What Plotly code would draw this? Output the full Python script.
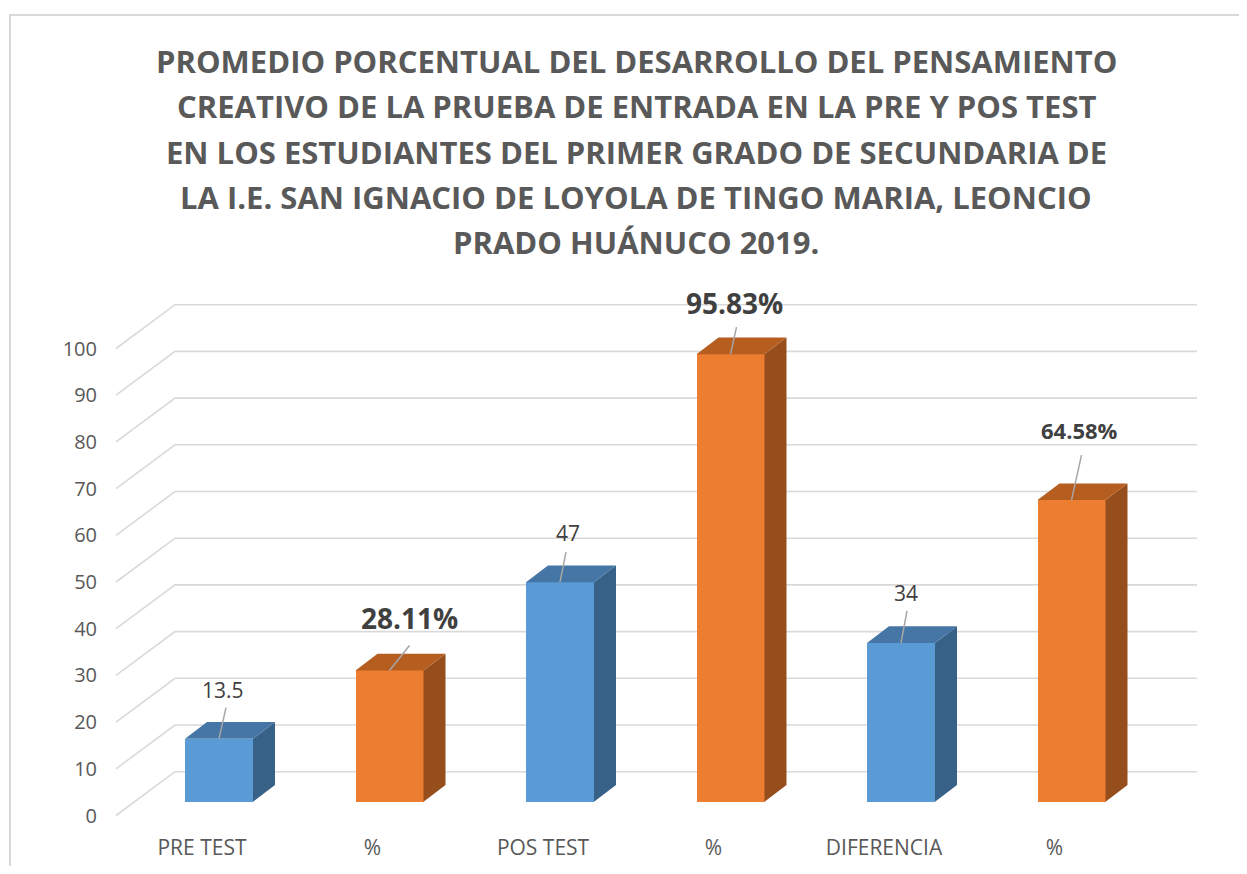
import plotly.graph_objects as go

# ---------------- data ----------------
categories = ["PRE TEST", "%", "POS TEST", "%", "DIFERENCIA", "%"]
values = [13.5, 28.11, 47, 95.83, 34, 64.58]
is_percent = [False, True, False, True, False, True]
y_ticks = [0, 10, 20, 30, 40, 50, 60, 70, 80, 90, 100]
title_lines = [
    "PROMEDIO PORCENTUAL DEL DESARROLLO DEL PENSAMIENTO",
    "CREATIVO DE LA PRUEBA DE ENTRADA EN LA PRE Y POS TEST",
    "EN LOS ESTUDIANTES DEL PRIMER GRADO DE SECUNDARIA DE",
    "LA I.E. SAN IGNACIO DE LOYOLA DE TINGO MARIA, LEONCIO",
    "PRADO HUÁNUCO 2019.",
]

# ---------------- geometry / style (screen pixels) ----------------
PAGE_OFF = 8                               # default body margin of the html page
W, H = 1247 - 2 * PAGE_OFF, 874 - 2 * PAGE_OFF
L, R, T, B = 100, 1217, 290, 830          # plot area in screen pixels
X0PX, XSTEP = 219.0, 170.5                # pixel of category 0, pixels per category
Y0PX, YSCALE = 801.7, 4.67                # pixel of value 0 (bar front plane), px per unit

xr = [(L - X0PX) / XSTEP, (R - X0PX) / XSTEP]
yr = [(Y0PX - B) / YSCALE, (Y0PX - T) / YSCALE]

BAR_W = 68 / XSTEP
DX = 22 / XSTEP
DY = 16.7 / YSCALE
FRONT_OFF = (Y0PX - 815.5) / YSCALE
BACK_OFF = (Y0PX - 771.7) / YSCALE
X_FRONT = (116 - X0PX) / XSTEP
X_BACK = (175 - X0PX) / XSTEP
X_END = (1197 - X0PX) / XSTEP

BLUE = dict(front="#5B9BD5", top="#4576A5", side="#386188")
ORANGE = dict(front="#ED7D31", top="#B65D20", side="#964E1D")
GRID = "#D9D9D9"
TXT = "#595959"
LBL = "#404040"
FONT = "Open Sans"

# label style per bar: (label dx px, label dy px, leader end dx px, leader end dy px, size, bold)
label_style = [
    (4, 49, 7, 31, 21, False),
    (20, 52, 20, 25, 28, True),
    (8, 49, 6, 30, 21, False),
    (4, 51, 6, 27, 28, True),
    (5, 50, 6, 32, 21, False),
    (8, 70, 10, 45, 22, True),
]

fig = go.Figure()

# gridlines (floor diagonals + back wall), drawn below all traces
for v in y_ticks:
    fig.add_shape(type="path", xref="x", yref="y", layer="below",
                  path=f"M {X_FRONT},{v + FRONT_OFF} L {X_BACK},{v + BACK_OFF} L {X_END},{v + BACK_OFF}",
                  line=dict(color=GRID, width=1.6))

# 3D side and top faces computed from the values
for i, v in enumerate(values):
    c = ORANGE if is_percent[i] else BLUE
    xl, xrr = i - BAR_W / 2, i + BAR_W / 2
    fig.add_trace(go.Scatter(
        x=[xrr, xrr, xrr + DX, xrr + DX, xrr], y=[0, v, v + DY, DY, 0],
        fill="toself", fillcolor=c["side"], mode="lines", line=dict(width=0, color=c["side"]),
        hoverinfo="skip", showlegend=False))
    fig.add_trace(go.Scatter(
        x=[xl, xrr, xrr + DX, xl + DX, xl], y=[v, v, v + DY, v + DY, v],
        fill="toself", fillcolor=c["top"], mode="lines", line=dict(width=0, color=c["top"]),
        hoverinfo="skip", showlegend=False))

# front faces
fig.add_trace(go.Bar(
    x=list(range(len(values))), y=values, width=BAR_W,
    marker=dict(color=[ORANGE["front"] if p else BLUE["front"] for p in is_percent], line=dict(width=0)),
    showlegend=False, hoverinfo="skip"))

# leader lines
lx, ly = [], []
for i, v in enumerate(values):
    s = label_style[i]
    lx += [i, i + s[2] / XSTEP, None]
    ly += [v, v + s[3] / YSCALE, None]
fig.add_trace(go.Scatter(x=lx, y=ly, mode="lines", line=dict(color="#A6A6A6", width=1.5),
                         hoverinfo="skip", showlegend=False))

# data labels
for i, v in enumerate(values):
    s = label_style[i]
    txt = f"{v:.2f}%" if is_percent[i] else f"{v:g}"
    if s[5]:
        txt = f"<b>{txt}</b>"
    fig.add_annotation(x=i + s[0] / XSTEP, y=v + s[1] / YSCALE, xref="x", yref="y",
                       text=txt, showarrow=False, xanchor="center", yanchor="middle",
                       font=dict(family=FONT, size=s[4], color=LBL))

# title lines
for k, line in enumerate(title_lines):
    ypx = 61 + 45.3 * k
    fig.add_annotation(x=(636 - L) / (R - L), y=(B - ypx) / (B - T), xref="paper", yref="paper",
                       text=f"<b>{line}</b>", showarrow=False, xanchor="center", yanchor="middle",
                       font=dict(family=FONT, size=31, color=TXT))

# chart border (left and top visible)
fig.add_shape(type="rect", xref="paper", yref="paper",
              x0=(10 - L) / (R - L), x1=(1270 - L) / (R - L),
              y0=(B - 900) / (B - T), y1=(B - 15) / (B - T),
              line=dict(color="#D9D9D9", width=2), fillcolor="rgba(0,0,0,0)", layer="below")

fig.update_layout(
    width=W, height=H,
    margin=dict(l=L - PAGE_OFF, r=W - (R - PAGE_OFF), t=T - PAGE_OFF, b=H - (B - PAGE_OFF),
                autoexpand=False),
    paper_bgcolor="white", plot_bgcolor="white",
    bargap=0,
    xaxis=dict(range=xr, showgrid=False, zeroline=False, showline=False,
               tickmode="array", tickvals=[i - 17 / XSTEP for i in range(len(categories))],
               ticktext=categories, ticks="", ticklabelstandoff=3,
               tickfont=dict(family=FONT, size=21, color=TXT), fixedrange=True),
    yaxis=dict(range=yr, showgrid=False, zeroline=False, showline=False,
               tickmode="array", tickvals=[v + FRONT_OFF for v in y_ticks],
               ticktext=[str(v) for v in y_ticks], ticks="", ticklabelstandoff=2,
               tickfont=dict(family=FONT, size=20, color=TXT), fixedrange=True),
)

fig.write_html("out.html")
